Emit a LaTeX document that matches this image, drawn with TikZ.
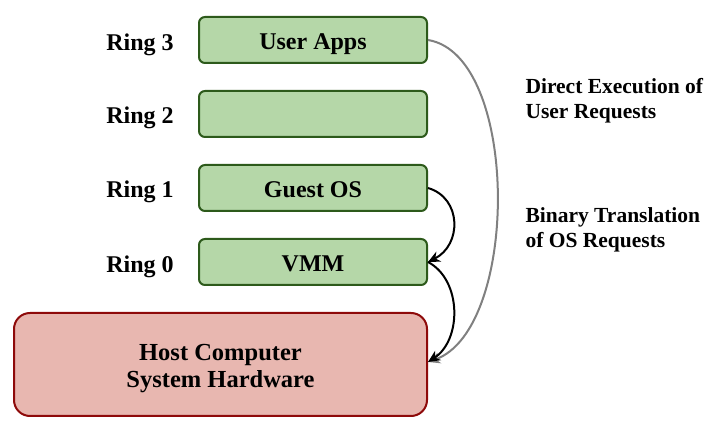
\documentclass[tikz,border=0pt]{standalone}
\usepackage{fontspec}
\setmainfont{Liberation Serif}
\usetikzlibrary{arrows.meta}
\definecolor{gfill}{HTML}{B5D7A8}
\definecolor{gline}{HTML}{2D5A1B}
\definecolor{rfill}{HTML}{E8B7B0}
\definecolor{rline}{HTML}{8E0A0A}
\definecolor{garrow}{HTML}{808080}
\begin{document}
\begin{tikzpicture}[x=1pt,y=-1pt,
  ringbox/.style={draw=gline,fill=gfill,line width=2pt,rounded corners=6pt,minimum width=228pt,minimum height=46pt,text height=21pt,text depth=2pt,font=\fontsize{24}{28}\selectfont\bfseries},
  hostbox/.style={draw=rline,fill=rfill,line width=2pt,rounded corners=16pt,minimum width=413pt,minimum height=103pt},
  hosttext/.style={align=center,font=\fontsize{24.5}{27}\selectfont\bfseries},
  ringlbl/.style={text height=21pt,text depth=2pt,font=\fontsize{24}{28}\selectfont\bfseries},
  sidelbl/.style={anchor=west,align=left,font=\fontsize{21.5}{25}\selectfont\bfseries},
  blk/.style={-{Stealth[length=12pt,width=11pt]},line width=2pt,black},
  gry/.style={-{Stealth[length=12pt,width=11pt]},line width=2pt,garrow}]
\useasboundingbox (0,0) rectangle (718,435);
\node[ringbox] (ua) at (313,40) {User Apps};
\node[ringbox] (r2) at (313,114) {};
\node[ringbox] (gos) at (313,188) {Guest OS};
\node[ringbox] (vmm) at (313,262) {VMM};
\node[hostbox] (host) at (220.5,364.5) {};
\node[hosttext] (hostlbl) at (220.5,369) {Host Computer\\System Hardware};
\node[ringlbl] (l3) at (140,41) {Ring 3};
\node[ringlbl] (l2) at (140,114) {Ring 2};
\node[ringlbl] (l1) at (140,188) {Ring 1};
\node[ringlbl] (l0) at (140,263) {Ring 0};
\node[sidelbl] (t1) at (522,101) {Direct Execution of\\User Requests};
\node[sidelbl] (t2) at (522,230) {Binary Translation\\of OS Requests};
\coordinate (hin) at (428,362);
\draw[gry] (ua.east) .. controls (520,55) and (520,330) .. (hin);
\draw[blk] (gos.east) .. controls (462,198) and (462,245) .. (vmm.east);
\draw[blk] (vmm.east) .. controls (462,280) and (462,340) .. (hin);
\end{tikzpicture}
\end{document}
